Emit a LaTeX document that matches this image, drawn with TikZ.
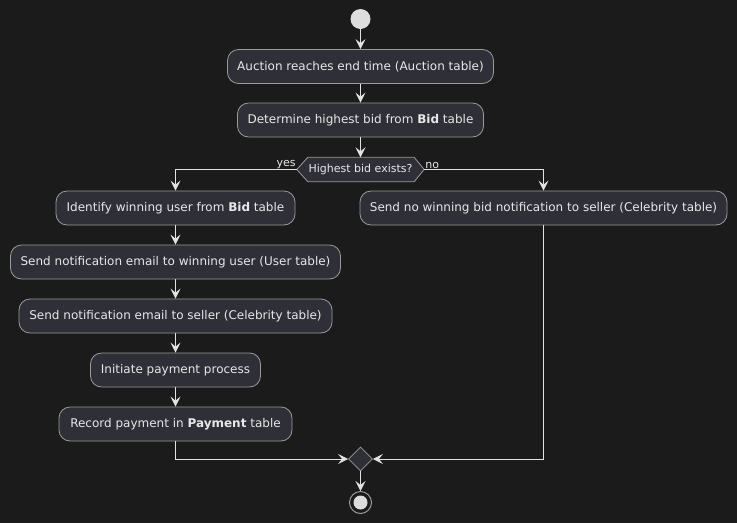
\documentclass[tikz,border=0pt]{standalone}
\usepackage{fontspec}
\setmainfont{DejaVu Sans}
\usetikzlibrary{arrows.meta,shapes.geometric}
\definecolor{bgc}{HTML}{1B1B1B}
\definecolor{boxc}{HTML}{2F2F38}
\definecolor{edgec}{HTML}{9A9A9A}
\definecolor{linec}{HTML}{E2E2E2}
\definecolor{txtc}{HTML}{E8E8E8}
\definecolor{startc}{HTML}{DDDDDD}
\begin{document}
\begin{tikzpicture}[x=1pt,y=-1pt,
  act/.style={draw=edgec, line width=0.8pt, fill=boxc, rounded corners=11pt,
    minimum height=34pt, inner sep=0pt, text=txtc, font=\fontsize{12}{14}\selectfont},
  arr/.style={draw=linec, line width=1pt, -{Stealth[length=10pt,width=10pt,inset=4pt]}},
  ln/.style={draw=linec, line width=1pt},
  lbl/.style={text=txtc, font=\fontsize{11}{13}\selectfont, inner sep=1pt}]
\fill[bgc] (0,0) rectangle (737,523);
\useasboundingbox (0,0) rectangle (737,523);
% start
\node[circle, fill=startc, minimum size=20pt, inner sep=0pt] (s) at (360.5,19) {};
\node[act, minimum width=266pt] (b1) at (360.5,66.5) {Auction reaches end time (Auction table)};
\node[act, minimum width=246pt] (b2) at (360.5,120) {Determine highest bid from \textbf{Bid} table};
% decision
\node[minimum width=127pt, minimum height=24pt, inner sep=0pt, text=txtc, font=\fontsize{11}{13}\selectfont] (d) at (360.5,169.5) {};
\draw[draw=edgec, line width=0.8pt, fill=boxc] (d.west) -- ([xshift=11pt]d.north west) -- ([xshift=-10pt]d.north east) -- (d.east) -- ([xshift=-10pt]d.south east) -- ([xshift=11pt]d.south west) -- cycle;
\node[text=txtc, font=\fontsize{11}{13}\selectfont, inner sep=0pt] at (d.center) {Highest bid exists?};
\node[lbl, anchor=south east] (yes) at ([yshift=-0pt]d.west) {yes};
\node[lbl, anchor=south west] (no) at (d.east) {no};
% left branch
\node[act, minimum width=239pt] (l1) at (175.5,208) {Identify winning user from \textbf{Bid} table};
\node[act, minimum width=330pt] (l2) at (175.5,262) {Send notification email to winning user (User table)};
\node[act, minimum width=313pt] (l3) at (175.5,316) {Send notification email to seller (Celebrity table)};
\node[act, minimum width=170pt] (l4) at (175.5,370) {Initiate payment process};
\node[act, minimum width=233pt] (l5) at (175.5,424) {Record payment in \textbf{Payment} table};
% right branch
\node[act, minimum width=367pt] (r1) at (543.5,208) {Send no winning bid notification to seller (Celebrity table)};
% merge
\node[diamond, draw=edgec, line width=0.8pt, fill=boxc, minimum size=24pt, inner sep=0pt] (m) at (360.5,459) {};
% end
\node[circle, draw=edgec, line width=1pt, minimum size=22pt, inner sep=0pt] (e) at (360.5,502.5) {};
\fill[startc] (e.center) circle (7pt);
% connectors
\draw[arr] (s) -- (b1);
\draw[arr] (b1) -- (b2);
\draw[arr] (b2) -- (d.north);
\draw[arr] (d.west) -| (l1.north);
\draw[arr] (d.east) -| (r1.north);
\draw[arr] (l1) -- (l2);
\draw[arr] (l2) -- (l3);
\draw[arr] (l3) -- (l4);
\draw[arr] (l4) -- (l5);
\draw[arr] (l5.south) |- (m.west);
\draw[arr] (r1.south) |- (m.east);
\draw[arr] (m.south) -- (e.north);
\end{tikzpicture}
\end{document}
